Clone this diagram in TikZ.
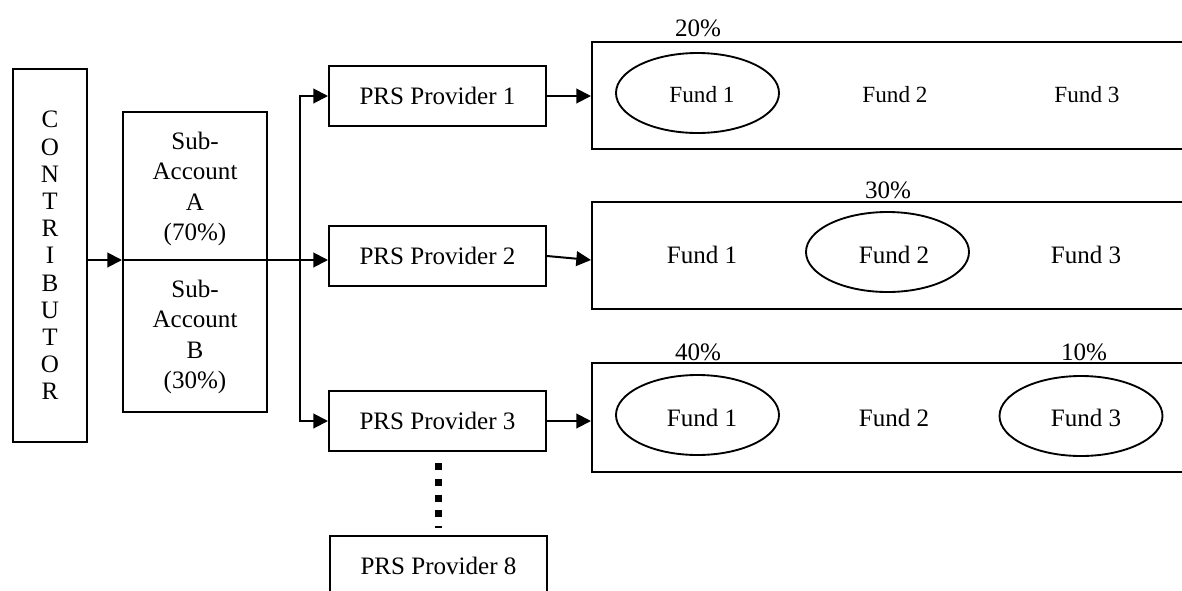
\documentclass[tikz,border=0pt]{standalone}
\usepackage{fontspec}
\setmainfont{Liberation Serif}
\usetikzlibrary{arrows.meta,shapes.geometric}
\begin{document}
\begin{tikzpicture}[x=0.75pt,y=-0.75pt,
  box/.style={draw,line width=1.5pt,inner sep=0pt},
  prov/.style={box,minimum width=162.75pt,minimum height=45pt,font=\fontsize{18.8}{22.6}\selectfont},
  fundbox/.style={box,minimum width=456pt},
  oval/.style={draw,ellipse,line width=1.4pt,minimum width=122.25pt,minimum height=60pt,inner sep=0pt},
  ftxt/.style={inner sep=0pt,font=\fontsize{18.8}{22.6}\selectfont},
  ftxtsmall/.style={inner sep=0pt,font=\fontsize{17.4}{21}\selectfont},
  pct/.style={inner sep=0pt,font=\fontsize{18.8}{22.6}\selectfont},
  ln/.style={line width=1.5pt},
  arr/.style={line width=1.5pt,-{Triangle[length=11pt,width=11pt]}},
  dots/.style={line width=5.25pt,dash pattern=on 5.25pt off 6.6pt}
]
\useasboundingbox (0,0) rectangle (1182,590);
\clip (0,0) rectangle (1182,590);

% contributor
\node[box,minimum width=55.5pt,minimum height=279.75pt,align=center,
      font=\fontsize{18.8}{20.4}\selectfont] (con) at (50,255.5)
  {C\\O\\N\\T\\R\\I\\B\\U\\T\\O\\R};

% sub-accounts
\node[box,minimum width=108pt,minimum height=225pt] (sa) at (195,262) {};
\node[inner sep=0pt,align=center,font=\fontsize{18.8}{22.7}\selectfont] (saA) at (195,189) {Sub-\\Account\\A\\(70\%)};
\node[inner sep=0pt,align=center,font=\fontsize{18.8}{22.7}\selectfont] (saB) at (195,337) {Sub-\\Account\\B\\(30\%)};

% providers
\node[prov] (p1) at (437.5,96) {PRS Provider 1};
\node[prov] (p2) at (437.5,256) {PRS Provider 2};
\node[prov] (p3) at (437.5,421) {PRS Provider 3};
\node[prov] (p8) at (438.5,566) {PRS Provider 8};

% fund boxes
\node[fundbox,minimum height=80.25pt] (fb1) at (896,95.5) {};
\node[fundbox,minimum height=80.25pt] (fb2) at (896,255.5) {};
\node[fundbox,minimum height=81.75pt] (fb3) at (896,417.5) {};

% row 1
\node[oval] (e11) at (697.5,93) {};
\node[ftxtsmall] (f11) at (702,95) {Fund 1};
\node[ftxtsmall] (f12) at (895,95) {Fund 2};
\node[ftxtsmall] (f13) at (1087,95) {Fund 3};
\node[pct] (pc1) at (698,28) {20\%};

% row 2
\node[oval] (e22) at (887.5,252) {};
\node[ftxt] (f21) at (702,255) {Fund 1};
\node[ftxt] (f22) at (894,255) {Fund 2};
\node[ftxt] (f23) at (1086,255) {Fund 3};
\node[pct] (pc2) at (888,190) {30\%};

% row 3
\node[oval] (e31) at (697.5,415) {};
\node[oval] (e33) at (1081,416) {};
\node[ftxt] (f31) at (702,418) {Fund 1};
\node[ftxt] (f32) at (894,418) {Fund 2};
\node[ftxt] (f33) at (1086,418) {Fund 3};
\node[pct] (pc3) at (698,352) {40\%};
\node[pct] (pc4) at (1084,352) {10\%};

% connectors
\coordinate (m) at (300,260);
\draw[arr] (con.east |- m) -- (sa.west |- m);
\draw[ln] (sa.west |- m) -- (m);
\draw[arr] (m) -- (p2.west |- m);
\draw[arr] (m) |- (p1.west);
\draw[arr] (m) |- (p3.west);
\draw[arr] (p1.east) -- (fb1.west |- p1.east);
\draw[arr] (p2.east) -- (fb2.west |- m);
\draw[arr] (p3.east) -- (fb3.west |- p3.east);

% dotted continuation
\coordinate (dtop) at ([yshift=-8.25pt]p8.north |- p3.south);
\coordinate (dbot) at ([yshift=5.25pt]p8.north);
\draw[dots] (dtop) -- (dbot);
\end{tikzpicture}
\end{document}
